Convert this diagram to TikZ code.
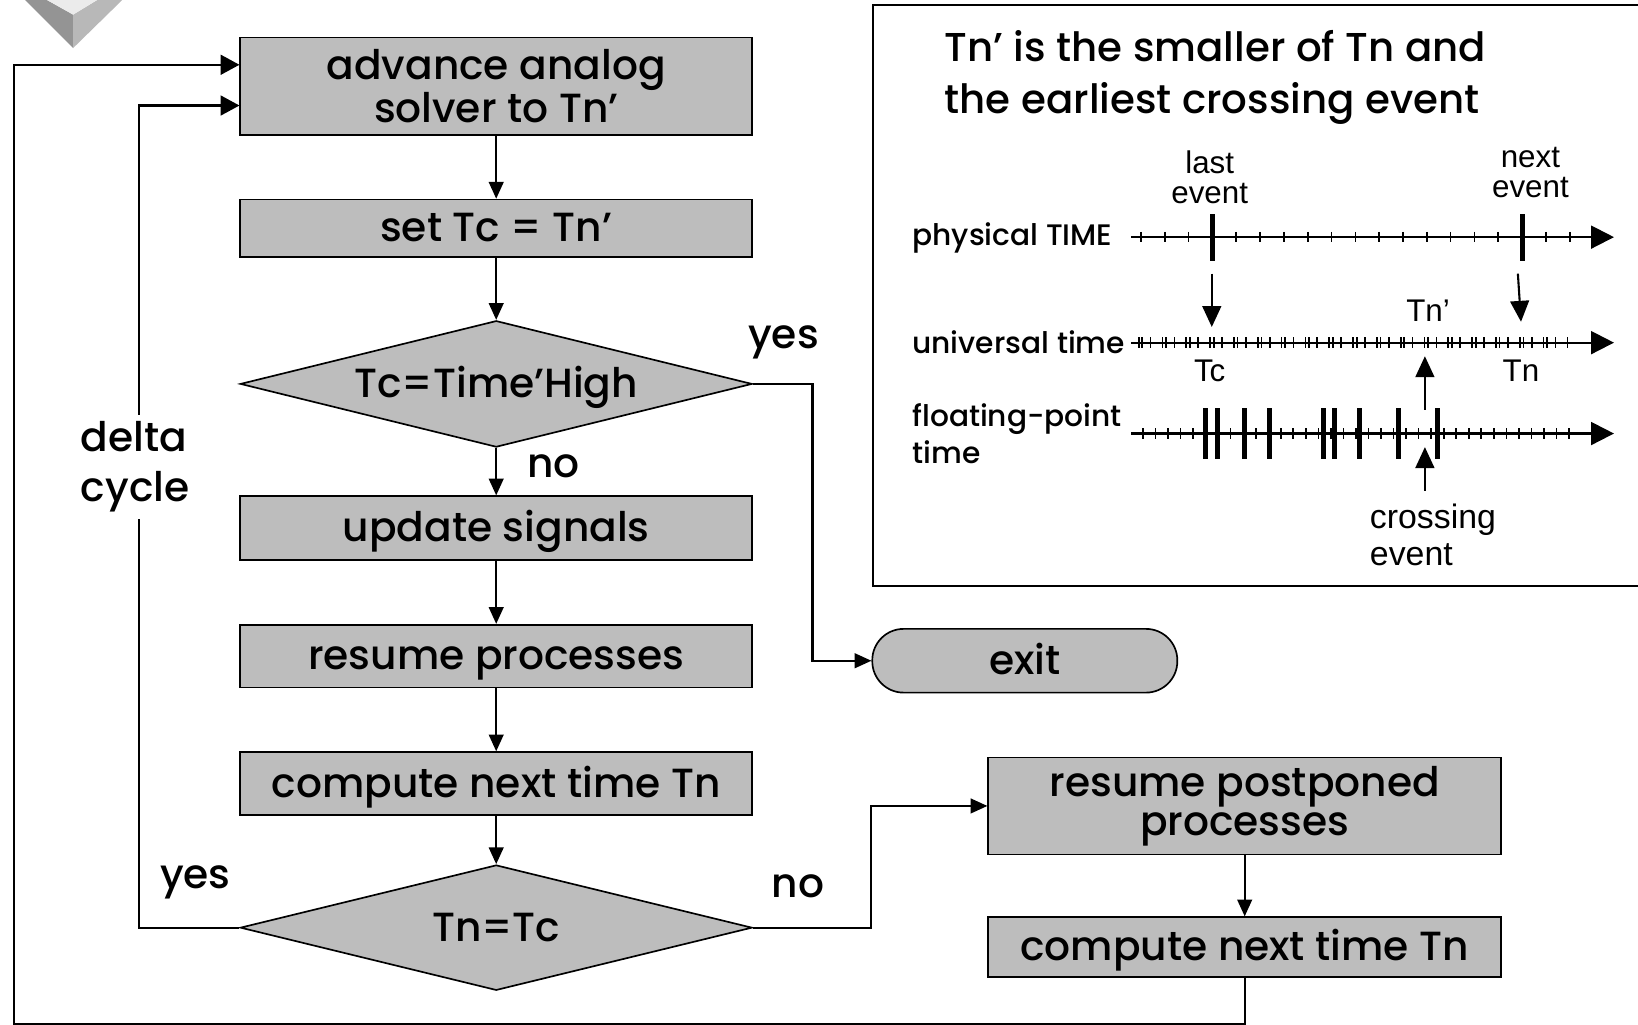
\documentclass[tikz,border=0pt]{standalone}
\usepackage{fontspec}
\setmainfont{Poppins Medium}
\newfontfamily\arialfont{Liberation Sans}
\usetikzlibrary{positioning, arrows.meta, shapes.geometric}

\definecolor{boxgray}{gray}{0.74}

\begin{document}
\begin{tikzpicture}[x=0.5pt, y=-0.5pt,
    box/.style={rectangle, draw, line width=0.8pt, fill=boxgray, minimum width=245pt, align=center, inner sep=0pt, font=\fontsize{19.5}{18.5}\selectfont},
    oneline/.style={text height=15pt, text depth=2pt},
    decision/.style={diamond, draw, line width=0.8pt, fill=boxgray, aspect=4, minimum width=245pt, minimum height=60.5pt, inner sep=0pt, oneline, font=\fontsize{19.5}{18.5}\selectfont},
    lbl/.style={inner sep=0pt, font=\fontsize{19.5}{24}\selectfont},
    small/.style={inner sep=0pt, align=left, font=\fontsize{14.2}{18}\selectfont},
    tiny/.style={inner sep=0pt, align=center, font=\arialfont\fontsize{15}{14.2}\selectfont},
    flow/.style={line width=1pt, -{Triangle[length=8pt, width=7pt]}},
    loop/.style={line width=1pt, -{Triangle[length=9pt, width=9.5pt]}},
    pointer/.style={line width=1pt, -{Triangle[length=10pt, width=9pt]}},
    axis/.style={line width=1pt, -{Triangle[length=11pt, width=11pt]}},
    tick/.style={line width=0.8pt},
    bigtick/.style={line width=2.4pt}]
    \useasboundingbox (0,0) rectangle (1568,981);

    \fill[black!42] (24,0) -- (45,0) -- (70,14) -- (70,46) -- cycle;
    \fill[black!28] (70,46) -- (70,14) -- (93,0) -- (117,0) -- cycle;
    \fill[black!8] (45,0) -- (93,0) -- (70,14) -- cycle;

    \node[box, minimum height=46.5pt] (advance) at (475,82.5) {advance analog\\solver to Tn’};
    \node[box, oneline, minimum height=27.5pt] (settc) at (475,218.5) {set Tc = Tn’};
    \node[decision] (tchigh) at (475,367.5) {Tc=Time’High};
    \node[box, oneline, minimum height=30.5pt] (update) at (475,505.5) {update signals};
    \node[box, oneline, minimum height=30pt] (resume) at (475,628) {resume processes};
    \node[box, oneline, minimum height=30pt] (compute) at (475,750) {compute next time Tn};
    \node[decision, minimum height=60pt] (tneq) at (475,888) {Tn=Tc};
    \node[box, oneline, rounded corners=15pt, minimum width=146pt, minimum height=30.5pt] (exit) at (981,632.5) {exit};
    \node[box, minimum width=245.5pt, minimum height=46.5pt] (postponed) at (1191.5,771.5) {resume postponed\\processes};
    \node[box, oneline, minimum width=245.5pt, minimum height=28.5pt] (compute2) at (1191.5,906.5) {compute next time Tn};
    \coordinate (corner) at (13,980.5);

    \draw[flow] (advance) -- (settc);
    \draw[flow] (settc) -- (tchigh);
    \draw[flow] (tchigh) -- (update);
    \draw[flow] (update) -- (resume);
    \draw[flow] (resume) -- (compute);
    \draw[flow] (compute) -- (tneq);
    \draw[flow] (tchigh.east) -- ++(57,0) |- (exit.west);
    \draw[flow] (tneq.east) -- ++(113,0) |- (postponed.west);
    \draw[flow] (postponed) -- (compute2);
    \draw[loop] (tneq.west) -- ++(-96,0) |- ([yshift=-9.25pt]advance.west);
    \draw[loop] (compute2.south) |- (corner) |- ([yshift=10.25pt]advance.west);

    \node[lbl, fill=white, align=left, anchor=west, inner sep=3pt] (delta) at (71,447) {delta\\cycle};
    \node[lbl] (yes1) at (750,328) {yes};
    \node[lbl] (no1) at (530,446) {no};
    \node[lbl] (yes2) at (187,845) {yes};
    \node[lbl] (no2) at (764,848) {no};

    \draw[line width=0.8pt] (836,5) rectangle (1580,561);
    \node[lbl, align=left, anchor=west, font=\fontsize{19.3}{25}\selectfont] (title) at (904,74) {Tn’ is the smaller of Tn and\\the earliest crossing event};

    \node[small, anchor=west] (physical) at (873,228) {physical TIME};
    \node[small, anchor=west] (universal) at (873,328) {universal time};
    \node[small, anchor=west] (floating) at (873,415) {floating-point\\time};

    \draw[axis] (1083,227) -- (1545,227);
    \foreach \k in {-3,...,15} {
        \draw[tick] ({1160.6+22.8*\k},222) -- ++(0,10);
    }
    \draw[bigtick] (1160.6,205) -- (1160.6,250);
    \draw[bigtick] (1457,205) -- (1457,250);
    \node[tiny] (last) at (1158,170) {last\\event};
    \node[tiny] (next) at (1465,165) {next\\event};
    \draw[pointer] (1160,262) -- (1160,313);
    \draw[pointer] (1453,262) -- (1456,308);

    \draw[axis] (1083,328) -- (1545,328);
    \foreach \k in {0,...,36} {
        \draw[tick] ({1090+11.4*\k},323) -- ++(0,10);
    }
    \foreach \k in {0,2,...,34} {
        \draw[tick] ({1093.5+11.4*\k},323) -- ++(0,10);
    }
    \node[tiny] (tnp) at (1367,297) {Tn’};
    \node[tiny] (tc) at (1158,355) {Tc};
    \node[tiny] (tn) at (1456,355) {Tn};
    \draw[pointer] (1364,392) -- (1364,341);

    \draw[axis] (1083,415) -- (1545,415);
    \foreach \k in {0,...,34} {
        \draw[tick] ({1094+12*\k},410) -- ++(0,10);
    }
    \foreach \x in {1153.7,1165.7,1191.4,1215.4,1266.7,1277,1301,1338.6,1376.3} {
        \draw[bigtick] (\x,391) -- (\x,439);
    }
    \draw[pointer] (1364,470) -- (1364,428);
    \node[tiny, align=left, anchor=west, font=\arialfont\fontsize{16.2}{18}\selectfont] (crossing) at (1311,512) {crossing\\event};
\end{tikzpicture}
\end{document}
